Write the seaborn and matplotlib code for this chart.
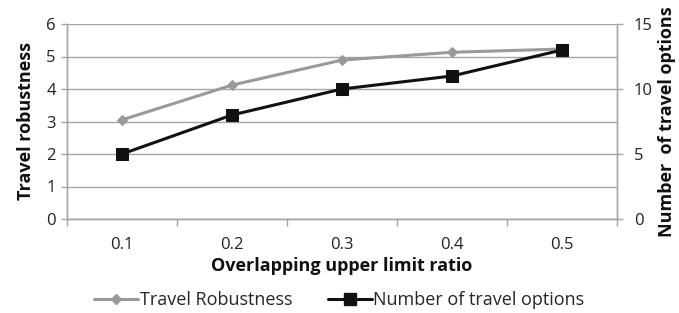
import matplotlib
matplotlib.use("Agg")
import matplotlib.pyplot as plt
import seaborn as sns
import pandas as pd
from matplotlib.lines import Line2D

categories = ["0.1", "0.2", "0.3", "0.4", "0.5"]
robustness = [3.05, 4.12, 4.89, 5.13, 5.23]
options = [5, 8, 10, 11, 13]

sns.set_theme(style="white")
plt.rcParams['font.family'] = ['Open Sans', 'DejaVu Sans']

df = pd.DataFrame({"ratio": categories, "robustness": robustness, "options": options})

fig = plt.figure(figsize=(6.79, 3.13), dpi=100)
ax = fig.add_axes([67/679, 1-219/313, 550/679, 195/313])
ax2 = ax.twinx()

gray = "#9a9a9a"
axc = "#a6a6a6"

sns.lineplot(data=df, x="ratio", y="robustness", ax=ax, color=gray, lw=2.2,
             marker="D", markersize=5, markeredgecolor=gray, sort=False)
sns.lineplot(data=df, x="ratio", y="options", ax=ax2, color="#111111", lw=2.2,
             marker="s", markersize=9, markeredgecolor="#111111", sort=False)

ax.set_xlim(-0.5, 4.5)
ax.set_ylim(0, 6)
ax2.set_ylim(0, 15)
ax.set_yticks(range(0, 7))
ax2.set_yticks([0, 5, 10, 15])
ax.grid(axis="y", color=axc, lw=1)
ax.set_axisbelow(True)

tfs = 12
ax.set_xticks([-0.5, 0.5, 1.5, 2.5, 3.5, 4.5], minor=False)
ax.set_xticklabels([])
ax.set_xticks(range(5), minor=True)
ax.set_xticklabels(categories, minor=True)
ax.tick_params(axis="x", which="major", direction="out", length=5, width=1, color=axc, bottom=True)
ax.tick_params(axis="x", which="minor", length=0, pad=13, labelsize=tfs, labelcolor="#222222")
ax.tick_params(axis="y", direction="out", length=4, width=1, color=axc, left=True, labelsize=tfs, labelcolor="#222222", pad=4)
ax2.tick_params(axis="y", direction="out", length=4, width=1, color=axc, right=True, labelsize=tfs, labelcolor="#222222", pad=8)

for a in (ax, ax2):
    a.spines["top"].set_visible(False)
    for s in ["left", "right", "bottom"]:
        a.spines[s].set_color(axc)
        a.spines[s].set_linewidth(1)

lfs = 13
ax.set_xlabel("Overlapping upper limit ratio", fontsize=lfs, fontweight="bold", labelpad=3, color="#111111")
ax.set_ylabel("Travel robustness", fontsize=lfs, fontweight="bold", labelpad=8, color="#111111")
ax2.set_ylabel("Number  of travel options", fontsize=lfs, fontweight="bold", labelpad=4, color="#111111")

handles = [
    Line2D([], [], color=gray, lw=2.2, marker="D", markersize=5),
    Line2D([], [], color="#111111", lw=2.2, marker="s", markersize=9),
]
fig.legend(handles, ["Travel Robustness", "Number of travel options"], loc="center",
           bbox_to_anchor=(0.5, 1-300/313), ncol=2, frameon=False, fontsize=13,
           handlelength=2.4, handletextpad=0.1, columnspacing=2.0)

fig.savefig("out.png", dpi=100)
